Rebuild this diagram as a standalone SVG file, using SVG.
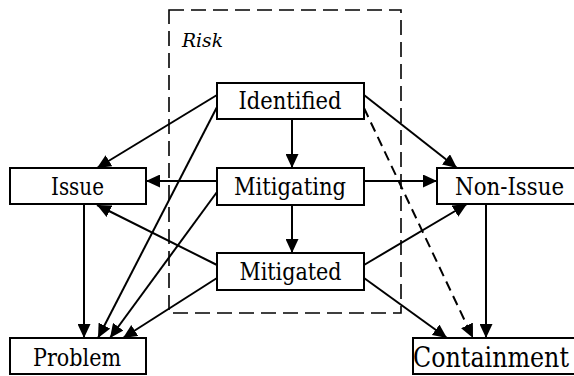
<svg xmlns="http://www.w3.org/2000/svg" width="574" height="376" viewBox="0 0 574 376">
  <style>
    .box { fill: #fff; stroke: #000; stroke-width: 2; }
    .serif { font-family: 'DejaVu Serif Condensed', 'DejaVu Serif', 'Liberation Serif', serif; fill: #000; }
    .lbl { font-size: 23.5px; text-anchor: middle; }
    .edge { fill: none; stroke: #000; stroke-width: 2; marker-end: url(#arrow); }
    .dashed { stroke-dasharray: 10 6; }
    .group { fill: none; stroke: #000; stroke-width: 1.6; stroke-dasharray: 15 7; }
  </style>
  <defs>
    <marker id="arrow" markerUnits="userSpaceOnUse" markerWidth="15" markerHeight="13" refX="14" refY="6.5" orient="auto">
      <path d="M0,0 L14,6.5 L0,13 z" fill="#000"/>
    </marker>
  </defs>

  <!-- risk lifecycle group -->
  <g id="risk-group">
    <rect class="group" x="169" y="10" width="232" height="303"/>
    <text class="serif" x="182" y="47" font-size="18.5" font-style="italic" textLength="41" lengthAdjust="spacingAndGlyphs">Risk</text>
  </g>

  <!-- connectors -->
  <g id="connectors">
    <line class="edge" x1="217" y1="95" x2="97" y2="168"/>
    <line class="edge" x1="217" y1="107" x2="98" y2="338"/>
    <line class="edge" x1="217" y1="192" x2="110" y2="338"/>
    <line class="edge" x1="217" y1="278" x2="123" y2="338"/>
    <line class="edge" x1="84" y1="204" x2="84" y2="338"/>
    <line class="edge" x1="217" y1="181" x2="146" y2="181"/>
    <line class="edge" x1="217" y1="265" x2="97" y2="205"/>
    <line class="edge" x1="292" y1="119" x2="292" y2="168"/>
    <line class="edge" x1="292" y1="205" x2="292" y2="253"/>
    <line class="edge" x1="364" y1="181" x2="437" y2="181"/>
    <line class="edge" x1="364" y1="95" x2="457" y2="168"/>
    <line class="edge dashed" x1="364" y1="108" x2="473" y2="338"/>
    <line class="edge" x1="364" y1="265" x2="467" y2="204"/>
    <line class="edge" x1="364" y1="278" x2="447" y2="338"/>
    <line class="edge" x1="486" y1="204" x2="486" y2="338"/>
  </g>

  <!-- states -->
  <g id="identified">
    <rect class="box" x="217" y="83" width="147" height="36"/>
    <text class="serif lbl" x="290" y="109" textLength="103" lengthAdjust="spacingAndGlyphs">Identified</text>
  </g>
  <g id="mitigating">
    <rect class="box" x="217" y="168" width="147" height="37"/>
    <text class="serif lbl" x="290" y="195" textLength="112" lengthAdjust="spacingAndGlyphs">Mitigating</text>
  </g>
  <g id="mitigated">
    <rect class="box" x="217" y="253" width="147" height="37"/>
    <text class="serif lbl" x="290.5" y="280" textLength="102" lengthAdjust="spacingAndGlyphs">Mitigated</text>
  </g>
  <g id="issue">
    <rect class="box" x="10" y="168" width="136" height="36"/>
    <text class="serif lbl" x="77.5" y="195" textLength="53" lengthAdjust="spacingAndGlyphs">Issue</text>
  </g>
  <g id="problem">
    <rect class="box" x="10" y="338" width="136" height="36"/>
    <text class="serif lbl" x="77" y="366" textLength="88" lengthAdjust="spacingAndGlyphs">Problem</text>
  </g>
  <g id="non-issue">
    <rect class="box" x="437" y="168" width="150" height="36"/>
    <text class="serif lbl" x="509.5" y="195" textLength="109" lengthAdjust="spacingAndGlyphs">Non-Issue</text>
  </g>
  <g id="containment">
    <rect class="box" x="413" y="338" width="170" height="36"/>
    <text class="serif" x="413" y="367" font-size="28" textLength="156" lengthAdjust="spacingAndGlyphs">Containment</text>
  </g>
</svg>
